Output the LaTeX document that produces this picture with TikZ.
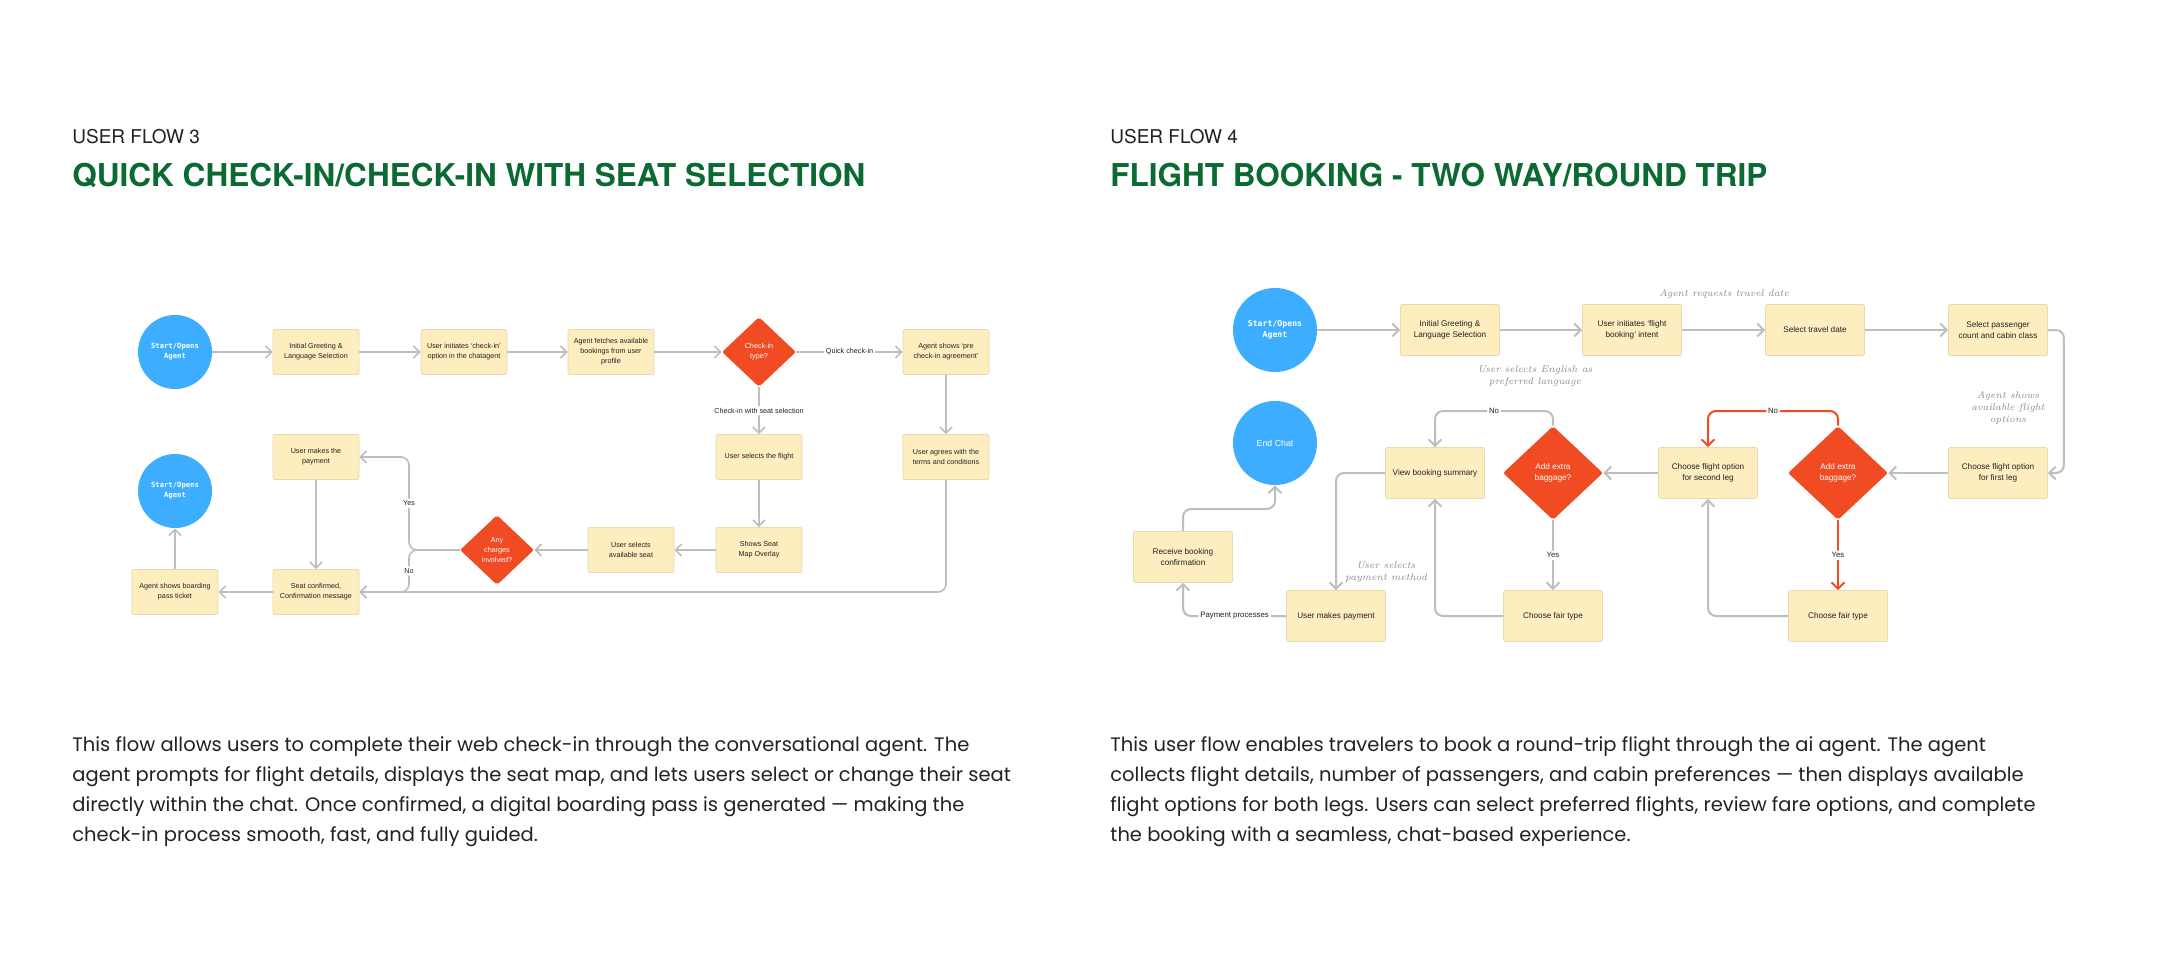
\documentclass[tikz,border=0pt]{standalone}
\usepackage{fontspec}
\usetikzlibrary{shapes.geometric,arrows.meta}
\newfontfamily\sansf{Liberation Sans}
\newfontfamily\headf{TeX Gyre Heros}
\newfontfamily\parf{Poppins}
\newfontfamily\monof{DejaVu Sans Mono}
\definecolor{boxfill}{HTML}{FEEDBF}
\definecolor{boxline}{HTML}{E6DBAF}
\definecolor{cblue}{HTML}{3DAEFF}
\definecolor{dorange}{HTML}{F04B23}
\definecolor{lgray}{HTML}{BEBEBE}
\definecolor{ink}{HTML}{222222}
\definecolor{handgray}{HTML}{8A8A8A}
\definecolor{tgreen}{HTML}{0B6A32}
\begin{document}
\begin{tikzpicture}[x=0.5pt,y=-0.5pt,
  box/.style={draw=boxline,fill=boxfill,rounded corners=1pt,line width=0.4pt,align=center,inner sep=0pt,text=ink},
  lbox/.style={box,minimum width=43pt,minimum height=22.5pt,font=\sansf\fontsize{3.6}{5}\selectfont},
  rbox/.style={box,minimum width=49.5pt,minimum height=25.5pt,font=\sansf\fontsize{4.1}{5.7}\selectfont},
  circ/.style={circle,fill=cblue,text=white,align=center,inner sep=0pt},
  lcirc/.style={circ,minimum size=37pt,font=\monof\bfseries\fontsize{3.6}{5}\selectfont},
  rcirc/.style={circ,minimum size=42pt,font=\monof\bfseries\fontsize{4.1}{5.8}\selectfont},
  dia/.style={diamond,fill=dorange,text=white,align=center,inner sep=0pt,rounded corners=1pt},
  ldia/.style={dia,minimum width=37pt,minimum height=35pt,font=\sansf\fontsize{3.6}{5}\selectfont},
  rdia/.style={dia,minimum width=50pt,minimum height=47pt,font=\sansf\fontsize{4.1}{5.7}\selectfont},
  lconn/.style={draw=lgray,line width=0.8pt,rounded corners=4pt,-{Straight Barb[length=3pt,width=6pt]}},
  rconn/.style={draw=lgray,line width=1pt,rounded corners=4pt,-{Straight Barb[length=3.2pt,width=6.5pt]}},
  redconn/.style={rconn,draw=dorange},
  llab/.style={fill=white,inner sep=1pt,text=ink,font=\sansf\fontsize{3.6}{4}\selectfont},
  rlab/.style={fill=white,inner sep=1pt,text=ink,font=\sansf\fontsize{3.9}{4.5}\selectfont},
  hand/.style={text=handgray,font=\rmfamily\itshape\fontsize{4.9}{6}\selectfont,align=center},
  kicker/.style={anchor=base west,text=ink,font=\headf\fontsize{9.5}{11}\selectfont,inner sep=0pt},
  title/.style={anchor=base west,text=tgreen,font=\headf\bfseries\fontsize{15.75}{18}\selectfont,inner sep=0pt},
  para/.style={anchor=base west,text=ink,font=\parf\fontsize{9.75}{11}\selectfont,inner sep=0pt}
]
\path[use as bounding box,fill=white] (0,0) rectangle (2160,969);

% ---------- headings ----------
\node[kicker] (k3) at (72,143) {USER FLOW 3};
\node[title] (t3) at (72,186) {QUICK CHECK-IN/CHECK-IN WITH SEAT SELECTION};
\node[kicker] (k4) at (1110,143) {USER FLOW 4};
\node[title] (t4) at (1110,186) {FLIGHT BOOKING - TWO WAY/ROUND TRIP};

% ---------- paragraphs ----------
\node[para] (pa1) at (72,751) {This flow allows users to complete their web check-in through the conversational agent. The};
\node[para] (pa2) at (72,781) {agent prompts for flight details, displays the seat map, and lets users select or change their seat};
\node[para] (pa3) at (72,811) {directly within the chat. Once confirmed, a digital boarding pass is generated — making the};
\node[para] (pa4) at (72,841) {check-in process smooth, fast, and fully guided.};
\node[para] (pb1) at (1110,751) {This user flow enables travelers to book a round-trip flight through the ai agent. The agent};
\node[para] (pb2) at (1110,781) {collects flight details, number of passengers, and cabin preferences — then displays available};
\node[para] (pb3) at (1110,811) {flight options for both legs. Users can select preferred flights, review fare options, and complete};
\node[para] (pb4) at (1110,841) {the booking with a seamless, chat-based experience.};

% ---------- flow 3 ----------
\node[lcirc] (s1) at (175,352) {Start/Opens\\Agent};
\node[lbox] (g1) at (316,352) {Initial Greeting \&\\Language Selection};
\node[lbox] (i1) at (464,352) {User initiates ‘check-in’\\option in the chatagent};
\node[lbox] (f1) at (611,352) {Agent fetches available\\bookings from user\\profile};
\node[ldia] (c1) at (759,352) {Check-in\\type?};
\node[lbox] (p1) at (946,352) {Agent shows ‘pre\\check-in agreement’};
\node[lbox] (a1) at (946,457) {User agrees with the\\terms and conditions};
\node[lbox] (u1) at (759,457) {User selects the flight};
\node[lbox] (m1) at (759,550) {Shows Seat\\Map Overlay};
\node[lbox] (e1) at (631,550) {User selects\\available seat};
\node[ldia] (d1) at (497,550) {Any\\charges\\involved?};
\node[lbox] (y1) at (316,457) {User makes the\\payment};
\node[lbox] (kc) at (316,592) {Seat confirmed,\\Confirmation message};
\node[lbox] (b1) at (175,592) {Agent shows boarding\\pass ticket};
\node[lcirc] (s2) at (175,491) {Start/Opens\\Agent};
\coordinate (j1) at (409,550);

\draw[lconn] (s1) -- (g1);
\draw[lconn] (g1) -- (i1);
\draw[lconn] (i1) -- (f1);
\draw[lconn] (f1) -- (c1);
\draw[lconn] (c1) -- node[llab]{Quick check-in} (p1);
\draw[lconn] (c1) -- node[llab]{Check-in with seat selection} (u1);
\draw[lconn] (p1) -- (a1);
\draw[lconn] (u1) -- (m1);
\draw[lconn] (m1) -- (e1);
\draw[lconn] (e1) -- (d1);
\draw[lconn] (a1.south) |- (kc.east);
\draw[lconn] (d1.west) -- (j1) |- node[pos=0.25,llab]{Yes} (y1.east);
\draw[lconn] (d1.west) -- (j1) |- node[pos=0.25,llab]{No} (kc.east);
\draw[lconn] (y1) -- (kc);
\draw[lconn] (kc) -- (b1);
\draw[lconn] (b1) -- (s2);

% ---------- flow 4 ----------
\node[rcirc] (S) at (1275,330) {Start/Opens\\Agent};
\node[rbox] (G) at (1450,330) {Initial Greeting \&\\Language Selection};
\node[rbox] (I) at (1632,330) {User initiates ‘flight\\booking’ intent};
\node[rbox] (T) at (1815,330) {Select travel date};
\node[rbox] (P) at (1998,330) {Select passenger\\count and cabin class};
\node[rbox] (F1) at (1998,473) {Choose flight option\\for first leg};
\node[rdia] (D2) at (1838,473) {Add extra\\baggage?};
\node[rbox] (F2) at (1708,473) {Choose flight option\\for second leg};
\node[rdia] (D1) at (1553,473) {Add extra\\baggage?};
\node[rbox] (V) at (1435,473) {View booking summary};
\node[rbox] (FT1) at (1553,616) {Choose fair type};
\node[rbox] (FT2) at (1838,616) {Choose fair type};
\node[rbox] (PM) at (1336,616) {User makes payment};
\node[rbox] (R) at (1183,557) {Receive booking\\confirmation};
\node[rcirc,font=\sansf\fontsize{4.4}{5}\selectfont] (E) at (1275,443) {End Chat};

\node[hand] (h1) at (1724,294) {Agent requests travel date};
\node[hand] (h2) at (1535,376) {User selects English as\\preferred language};
\node[hand] (h3) at (2008,408) {Agent shows\\available flight\\options};
\node[hand] (h4) at (1386,572) {User selects\\payment method};

\coordinate (n2) at (1838,411);
\coordinate (n1) at (1553,411);
\coordinate (r1) at (1183,509);

\draw[rconn] (S) -- (G);
\draw[rconn] (G) -- (I);
\draw[rconn] (I) -- (T);
\draw[rconn] (T) -- (P);
\draw[rconn] (P.east) -- ++(16,0) |- (F1.east);
\draw[rconn] (F1) -- (D2);
\draw[redconn] (D2.north) -- (n2) -| node[pos=0.25,rlab]{No} (F2.north);
\draw[redconn] (D2) -- node[rlab]{Yes} (FT2);
\draw[rconn] (FT2.west) -| (F2.south);
\draw[rconn] (F2) -- (D1);
\draw[rconn] (D1.north) -- (n1) -| node[pos=0.25,rlab]{No} (V.north);
\draw[rconn] (D1) -- node[rlab]{Yes} (FT1);
\draw[rconn] (FT1.west) -| (V.south);
\draw[rconn] (V.west) -| (PM.north);
\draw[rconn] (PM.west) -| node[pos=0.25,rlab]{Payment processes} (R.south);
\draw[rconn] (R.north) -- (r1) -| (E.south);
\end{tikzpicture}
\end{document}
